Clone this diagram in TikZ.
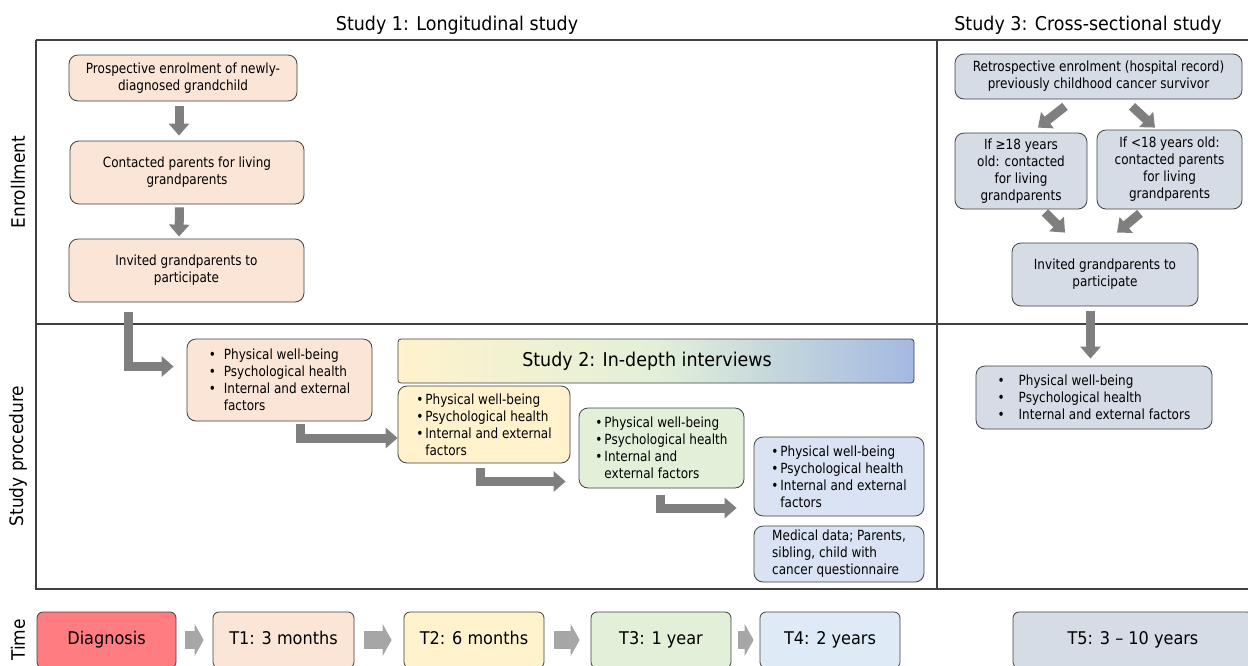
\documentclass[tikz,border=0pt]{standalone}
\usepackage{fontspec}
\setmainfont{DejaVu Sans}
\newfontfamily\headfont[FakeStretch=0.92]{DejaVu Sans}
\newfontfamily\boxfont[FakeStretch=0.86]{DejaVu Sans}
\usetikzlibrary{arrows.meta}

\definecolor{boxline}{HTML}{404040}
\definecolor{arrowgray}{HTML}{7F7F7F}
\definecolor{timegray}{HTML}{A6A6A6}
\definecolor{peach}{HTML}{FBE5D6}
\definecolor{yellowbox}{HTML}{FFF2CC}
\definecolor{greenbox}{HTML}{E2F0D9}
\definecolor{bluebox}{HTML}{DAE3F3}
\definecolor{lightblue}{HTML}{DEEBF7}
\definecolor{graybox}{HTML}{D6DCE5}
\definecolor{redbox}{HTML}{FF7C80}
\definecolor{bluehead}{HTML}{A3B9E1}

% bullet of a given width, and the indent of a second line
\newcommand{\blt}[1][9pt]{\makebox[#1][l]{\textbullet}}
\newcommand{\ind}[1][9pt]{\hspace*{#1}}

\begin{document}
\begin{tikzpicture}[x=1pt,y=-1pt,
	box/.style={draw=boxline,line width=0.8pt,rounded corners=9pt,align=center,inner sep=2pt,
		font=\boxfont\fontsize{14}{17}\selectfont},
	listbox/.style={box,align=left},
	timebox/.style={draw=boxline,line width=0.8pt,rounded corners=6pt,minimum height=56pt,
		text height=12.5pt,text depth=3.5pt,font=\headfont\fontsize{17.5}{20}\selectfont},
	frame/.style={draw=boxline,line width=1.1pt},
	title/.style={font=\headfont\fontsize{19}{23}\selectfont},
	side/.style={rotate=90,font=\headfont\fontsize{18.5}{22}\selectfont},
	bigarrow/.style={draw=arrowgray,line width=9pt,-{Triangle[length=12pt,width=20pt]}},
	timearrow/.style={draw=timegray,line width=18pt,-{Triangle[length=9pt,width=32pt]}}]
\useasboundingbox (0,0) rectangle (1248,665);
\clip (0,0) rectangle (1248,665);

% frame of the table
\draw[frame] (36,40) -- (1252,40);
\draw[frame] (36,40) -- (36,589) -- (1252,589);
\draw[frame] (36,324) -- (1252,324);
\draw[frame] (937,40) -- (937,589);

\node (st1) at (457,25) [title] {Study 1: Longitudinal study};
\node (st3) at (1088,25) [title] {Study 3: Cross-sectional study};
\node (lenr) at (18,182) [side] {Enrollment};
\node (lproc) at (18,456) [side] {Study procedure};
\node (ltime) at (18,640) [side] {Time};

% study 1, enrollment
\node (e1) at (183,78) [box,fill=peach,minimum width=228pt,minimum height=46pt]
	{Prospective enrolment of newly-\\diagnosed grandchild};
\node (e2) at (187,172.5) [box,fill=peach,minimum width=234pt,minimum height=63pt]
	{Contacted parents for living\\grandparents};
\node (e3) at (186.5,270.5) [box,fill=peach,minimum width=235pt,minimum height=63pt]
	{Invited grandparents to\\participate};

% study 1 and 2, procedure
\node (p1) at (279.5,380) [listbox,fill=peach,minimum width=185pt,minimum height=82pt]
	{\blt[15pt]Physical well-being\\\blt[15pt]Psychological health\\
	 \blt[15pt]Internal and external\\\ind[15pt]factors};
\node (s2) at (656,361) [draw=boxline,line width=0.8pt,rounded corners=3pt,
	left color=yellowbox,right color=bluehead,middle color=greenbox,
	minimum width=516pt,minimum height=44pt,title] {Study 2: In-depth interviews\hspace*{18pt}};
\node (p2) at (484,424.5) [listbox,fill=yellowbox,minimum width=172pt,minimum height=77pt]
	{\blt Physical well-being\\\blt Psychological health\\
	 \blt Internal and external\\\ind factors};
\node (p3) at (661.5,448) [listbox,fill=greenbox,minimum width=165pt,minimum height=80pt]
	{\blt Physical well-being\\\blt Psychological health\\
	 \blt Internal and\\\ind external factors};
\node (p4) at (839,476.5) [listbox,fill=bluebox,minimum width=170pt,minimum height=79pt]
	{\blt Physical well-being\\\blt Psychological health\\
	 \blt Internal and external\\\ind factors};
\node (md) at (839,554) [listbox,fill=bluebox,minimum width=170pt,minimum height=56pt]
	{Medical data; Parents,\\sibling, child with\\cancer questionnaire};

% study 3
\node (r0) at (1098.5,76.5) [box,fill=graybox,minimum width=287pt,minimum height=45pt]
	{Retrospective enrolment (hospital record)\\previously childhood cancer survivor};
\node (r1) at (1021,171) [box,fill=graybox,minimum width=132pt,minimum height=76pt]
	{If ≥18 years\\old: contacted\\for living\\grandparents};
\node (r2) at (1169.5,169.5) [box,fill=graybox,minimum width=145pt,minimum height=79pt]
	{If <18 years old:\\contacted parents\\for living\\grandparents};
\node (r3) at (1105,274.5) [box,fill=graybox,minimum width=186pt,minimum height=63pt]
	{Invited grandparents to\\participate};
\node (q1) at (1094,397.5) [listbox,fill=graybox,minimum width=236pt,minimum height=63pt]
	{\blt[21pt]Physical well-being\\\blt[21pt]Psychological health\\
	 \blt[21pt]Internal and external factors};

% time line
\node (t0) at (106.5,640) [timebox,fill=redbox,minimum width=139pt] {Diagnosis};
\node (t1) at (283.5,640) [timebox,fill=peach,minimum width=141pt] {T1: 3 months};
\node (t2) at (474,640) [timebox,fill=yellowbox,minimum width=140pt] {T2: 6 months};
\node (t3) at (661,640) [timebox,fill=greenbox,minimum width=140pt] {T3: 1 year};
\node (t4) at (830,640) [timebox,fill=lightblue,minimum width=140pt] {T4: 2 years};
\node (t5) at (1133,640) [timebox,fill=graybox,minimum width=240pt] {T5: 3 – 10 years};

% arrows
\draw[bigarrow] ([xshift=-4pt,yshift=-5pt]e1.south) -- ([xshift=-8pt,yshift=5pt]e2.north);
\draw[bigarrow] ([xshift=-7.5pt,yshift=-3pt]e2.south) -- ([xshift=-7.5pt,yshift=2pt]e3.north);
\draw[bigarrow] ([xshift=-58.5pt,yshift=-10pt]e3.south) |- ([xshift=-13pt,yshift=13.5pt]p1.west);
\draw[bigarrow] ([xshift=21pt,yshift=-3pt]p1.south) |- ([yshift=-13.5pt]p2.west);
\draw[bigarrow] ([xshift=-3.5pt,yshift=-5pt]p2.south) |- ([xshift=-13pt,yshift=-33.5pt]p3.west);
\draw[bigarrow] ([xshift=-1.5pt,yshift=-7pt]p3.south) |- ([xshift=-17pt,yshift=-31.5pt]p4.west);

\draw[bigarrow] ([xshift=-33.5pt,yshift=-7pt]r0.south) -- ([xshift=17pt,yshift=5pt]r1.north);
\draw[bigarrow] ([xshift=33.5pt,yshift=-7pt]r0.south) -- ([xshift=-14.5pt,yshift=2pt]r2.north);
\draw[bigarrow] ([xshift=24pt,yshift=-3pt]r1.south) -- ([xshift=-40pt,yshift=10pt]r3.north);
\draw[bigarrow] ([xshift=-29.5pt,yshift=-4pt]r2.south) -- ([xshift=12pt,yshift=10pt]r3.north);
\draw[bigarrow] ([xshift=-14.5pt,yshift=-5pt]r3.south) -- ([xshift=-3.5pt,yshift=7pt]q1.north);

\draw[timearrow] ([xshift=9pt]t0.east) -- ([xshift=-9pt]t1.west);
\draw[timearrow] ([xshift=10pt]t1.east) -- ([xshift=-12pt]t2.west);
\draw[timearrow] ([xshift=10pt]t2.east) -- ([xshift=-11pt]t3.west);
\draw[timearrow] ([xshift=7pt]t3.east) -- ([xshift=-6pt]t4.west);

\end{tikzpicture}
\end{document}
